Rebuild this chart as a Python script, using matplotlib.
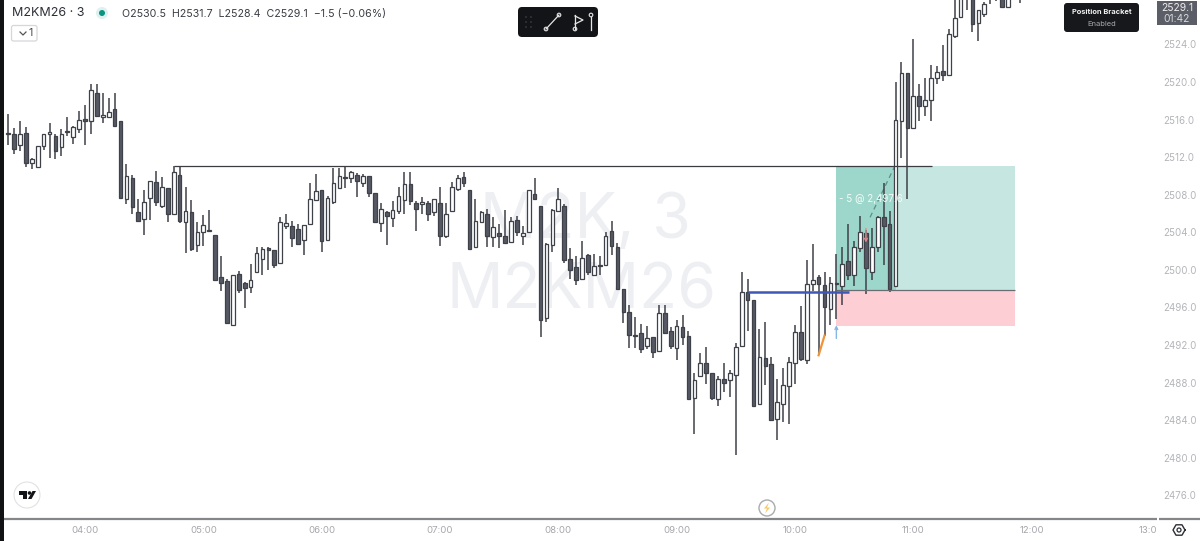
import numpy as np
import matplotlib
matplotlib.use("Agg")
import matplotlib.pyplot as plt
from matplotlib.patches import Rectangle, Circle, FancyBboxPatch, Polygon
from matplotlib.transforms import ScaledTranslation

plt.rcParams['font.family'] = ['Inter', 'DejaVu Sans']

opens = [2514.6,2514.5,2513.3,2514.6,2511.4,2511.0,2513.2,2514.5,2514.3,2513.1,
         2514.8,2514.1,2515.0,2516.1,2515.9,2518.8,2516.3,2516.3,2517.1,2515.8,
         2507.5,2509.8,2506.2,2505.4,2507.7,2509.4,2506.8,2508.7,2505.9,2510.1,
         2505.1,2506.2,2502.6,2504.0,2504.2,2503.7,2499.2,2498.8,2494.1,2499.6,
         2498.6,2498.2,2499.8,2501.2,2502.3,2502.1,2500.7,2504.7,2504.7,2504.4,
         2503.2,2504.9,2507.4,2508.5,2503.2,2507.2,2508.7,2509.9,2509.8,2510.1,
         2509.3,2510.0,2508.2,2505.0,2506.2,2505.5,2506.3,2507.4,2509.1,2507.1,
         2507.0,2507.1,2506.2,2507.1,2503.6,2506.3,2508.6,2509.9,2508.5,2502.4,
         2505.1,2506.0,2503.5,2503.9,2503.6,2503.0,2505.3,2503.6,2504.0,2508.1,
         2506.8,2494.9,2502.7,2506.3,2506.8,2501.2,2500.3,2499.0,2501.6,2499.5,
         2500.5,2500.5,2504.1,2502.4,2498.0,2495.5,2493.1,2493.3,2491.9,2492.9,
         2491.4,2495.4,2493.5,2491.7,2493.9,2493.0,2486.4,2488.7,2490.1,2489.0,
         2486.3,2488.4,2488.3,2488.8,2491.9,2497.6,2496.8,2485.7,2490.6,2490.0,
         2484.1,2485.7,2487.6,2490.1,2493.4,2490.4,2498.5,2499.2,2498.4,2495.8,
         2498.6,2498.3,2500.9,2499.5,2502.3,2503.9,2499.8,2502.4,2505.6,2504.9,
         2498.3,2515.9,2521.0,2515.1,2518.5,2517.4,2518.1,2520.4,2521.2,2520.8,
         2524.9,2526.9,2529.0,2529.5,2526.3,2527.2,2529.5,2529.5,2529.4,2528.0,
         2529.5,2530.5]
highs = [2516.6,2515.1,2515.9,2515.2,2511.9,2513.2,2514.5,2515.6,2514.5,2515.0,
         2516.3,2515.3,2516.9,2517.6,2519.8,2519.8,2518.8,2518.3,2518.8,2515.8,
         2511.3,2510.1,2507.5,2508.5,2509.5,2510.5,2509.9,2508.7,2511.1,2511.1,
         2508.8,2507.4,2505.1,2505.8,2506.4,2503.7,2501.5,2499.0,2499.5,2499.9,
         2498.7,2500.6,2502.4,2502.4,2502.4,2502.1,2505.6,2505.9,2505.2,2504.9,
         2504.8,2509.3,2510.2,2508.5,2507.9,2510.9,2510.9,2511.0,2510.5,2510.3,
         2510.2,2510.0,2508.2,2507.1,2506.3,2507.3,2508.8,2510.4,2510.4,2507.3,
         2507.8,2507.3,2507.5,2508.8,2507.1,2509.4,2510.1,2510.4,2508.5,2507.5,
         2506.3,2506.5,2505.6,2504.9,2506.4,2505.6,2505.7,2504.7,2508.5,2509.8,
         2506.8,2502.9,2506.5,2508.7,2507.0,2502.3,2501.5,2503.1,2501.7,2501.7,
         2501.5,2504.0,2505.2,2502.9,2498.0,2496.3,2495.0,2494.2,2494.0,2492.9,
         2496.3,2496.3,2493.9,2494.7,2495.2,2493.5,2489.0,2491.1,2491.8,2489.0,
         2488.7,2490.1,2489.3,2492.2,2499.8,2499.0,2496.8,2493.7,2494.5,2490.7,
         2488.4,2489.6,2490.7,2494.1,2496.2,2501.1,2502.8,2499.5,2499.8,2499.2,
         2501.7,2502.4,2504.9,2503.1,2505.7,2504.2,2504.5,2505.7,2509.2,2506.3,
         2520.0,2522.1,2521.0,2524.6,2519.8,2520.4,2521.8,2521.7,2523.9,2525.6,
         2528.7,2530.0,2531.0,2530.5,2527.7,2528.5,2530.5,2530.5,2530.0,2530.0,
         2531.0,2531.7]
lows = [2513.3,2512.3,2512.7,2511.0,2510.7,2511.0,2512.8,2511.9,2511.8,2512.1,
        2514.3,2513.4,2514.6,2513.3,2514.5,2516.4,2515.6,2516.3,2515.2,2507.6,
        2507.0,2506.0,2505.2,2503.7,2505.3,2506.8,2506.6,2505.1,2505.9,2505.0,
        2501.8,2502.0,2501.9,2502.5,2504.1,2498.8,2497.8,2494.2,2494.1,2497.5,
        2495.9,2497.5,2499.8,2499.5,2500.0,2500.2,2500.7,2504.4,2502.4,2502.8,
        2501.6,2504.9,2507.4,2501.9,2503.1,2507.0,2508.7,2508.7,2509.2,2507.8,
        2508.8,2507.8,2505.1,2504.0,2502.7,2504.6,2506.0,2506.0,2506.9,2504.1,
        2506.0,2505.2,2505.7,2502.5,2503.4,2506.3,2508.4,2508.8,2502.2,2502.4,
        2505.0,2502.4,2502.4,2502.3,2502.9,2502.9,2503.6,2502.6,2504.0,2507.4,
        2492.8,2494.5,2501.9,2506.3,2500.7,2499.0,2498.4,2499.0,2499.4,2499.4,
        2499.5,2500.5,2501.6,2498.0,2494.3,2491.7,2491.7,2491.1,2491.6,2490.6,
        2491.2,2493.2,2491.6,2490.4,2492.0,2486.2,2482.5,2488.7,2487.8,2486.1,
        2485.5,2487.0,2486.5,2480.3,2491.8,2493.5,2485.5,2485.7,2487.7,2484.0,
        2481.9,2483.8,2483.6,2487.8,2490.3,2490.0,2497.8,2490.9,2493.0,2494.1,
        2494.8,2496.3,2498.9,2498.3,2501.9,2497.4,2498.9,2501.9,2500.5,2497.6,
        2498.3,2511.9,2507.5,2515.1,2515.9,2516.4,2515.9,2519.8,2520.1,2520.6,
        2524.7,2526.9,2527.7,2525.3,2524.4,2526.9,2528.3,2528.6,2528.0,2528.0,
        2529.0,2528.4]
closes = [2514.5,2512.9,2514.5,2511.4,2511.8,2513.2,2514.5,2514.7,2512.7,2514.5,
          2514.7,2515.2,2516.0,2515.9,2519.2,2516.4,2516.5,2516.8,2515.3,2507.6,
          2510.0,2506.7,2505.2,2507.2,2509.5,2507.2,2508.8,2506.0,2510.4,2505.2,
          2506.3,2502.2,2504.0,2504.8,2504.1,2498.9,2498.6,2494.3,2499.5,2497.9,
          2498.1,2498.9,2501.8,2502.2,2502.1,2500.5,2505.1,2505.0,2503.4,2502.8,
          2504.8,2507.5,2508.4,2503.1,2507.6,2509.2,2510.0,2509.8,2510.4,2509.5,
          2510.0,2508.2,2505.1,2506.5,2505.7,2506.4,2507.9,2509.1,2507.3,2506.5,
          2507.2,2506.0,2507.5,2503.6,2505.9,2508.8,2509.8,2509.2,2502.2,2505.2,
          2506.2,2503.6,2504.6,2503.6,2502.9,2505.2,2504.0,2503.9,2508.5,2507.5,
          2494.7,2502.8,2506.4,2507.5,2501.0,2500.0,2498.9,2501.3,2499.8,2500.4,
          2500.4,2503.6,2502.5,2498.0,2495.5,2493.1,2493.0,2491.6,2492.7,2491.2,
          2495.4,2493.3,2491.9,2494.0,2492.9,2486.3,2488.3,2490.1,2489.0,2486.4,
          2488.4,2488.0,2489.0,2491.8,2497.6,2496.8,2485.5,2490.7,2489.8,2484.0,
          2485.9,2487.7,2490.2,2493.4,2490.5,2498.5,2498.9,2498.5,2496.0,2498.6,
          2498.5,2500.6,2499.4,2502.4,2504.0,2500.2,2502.4,2505.6,2504.7,2498.0,
          2516.0,2521.0,2515.1,2518.5,2517.4,2518.1,2520.4,2521.1,2520.8,2525.1,
          2526.8,2529.5,2529.5,2526.2,2527.7,2528.3,2530.0,2530.0,2528.0,2529.0,
          2530.5,2529.1]

price_ticks = [2476,2480,2484,2488,2492,2496,2500,2504,2508,2512,2516,2520,2524]
time_labels = ["04:00","05:00","06:00","07:00","08:00","09:00","10:00","11:00","12:00","13:0"]
time_ticks = [13,33,53,73,93,113,133,153,173,193]

level_price = 2511.1
level_start, level_end = 28, 156.1
target_price, entry_price, stop_price = 2511.1, 2497.85, 2494.0
tool_start, tool_mid, tool_end = 140, 150, 170.2
blue_price = 2497.65
blue_start, blue_end = 125, 142.2
orange_x = [137, 138]
orange_y = [2490.9, 2493.0]
dash_x = [145.7, 150]
dash_y = [2505.6, 2511.2]

DARK = '#565964'
EDGE = '#3f4149'

fig = plt.figure(figsize=(12, 5.41), dpi=100)
ax = fig.add_axes([4/1200, 22/541, 1153/1200, 519/541])
ax.set_xlim(-0.693, 194.2)
ax.set_ylim(2524-(519-44.5)/9.39, 2524+44.5/9.39)
ax.set_zorder(1)
ax.patch.set_alpha(0)

# position tool
ax.add_patch(Rectangle((tool_start, entry_price), tool_mid-tool_start, target_price-entry_price, color='#9dd6ca', lw=0, zorder=1))
ax.add_patch(Rectangle((tool_mid, entry_price), tool_end-tool_mid, target_price-entry_price, color='#c6e7e1', lw=0, zorder=1))
ax.add_patch(Rectangle((tool_start, stop_price), tool_end-tool_start, entry_price-stop_price, color='#fdced3', lw=0, zorder=1))

# watermark sits behind the axes
fig.text(585/1200, 1-221/541, "M2K, 3", fontsize=45, color='#eeeff2', ha='center', va='center', zorder=0.5)
fig.text(581/1200, 1-292/541, "M2KM26", fontsize=45, color='#eeeff2', ha='center', va='center', zorder=0.5)

xs = np.arange(len(opens))
o = np.array(opens)
c = np.array(closes)
ax.vlines(xs, lows, highs, color=EDGE, lw=1.1, zorder=3)
fills = [DARK if cc < oo else 'white' for oo, cc in zip(o, c)]
ax.bar(xs, np.abs(c-o), bottom=np.minimum(o, c), width=0.62, color=fills, edgecolor=EDGE, linewidth=0.9, zorder=4)

ax.hlines(level_price, level_start, level_end, color='#3a3c42', lw=0.9, zorder=5)
ax.hlines(entry_price, tool_start, tool_end, color='#6b6d72', lw=0.9, zorder=5)
ax.hlines(blue_price, blue_start, blue_end, color='#3f57b8', lw=1.8, zorder=6)
ax.plot(orange_x, orange_y, color='#f0943a', lw=1.6, zorder=6)
ax.plot(dash_x, dash_y, color='#5d8f86', lw=0.9, ls=(0, (4, 3)), zorder=2)
ax.annotate("", xy=(140, 2494.1), xytext=(140, 2492.7), arrowprops=dict(arrowstyle='->,head_length=0.2,head_width=0.1', color='#86b6e2', lw=1.0, shrinkA=0, shrinkB=0), zorder=6)
ax.annotate("", xy=(145, 2502.9), xytext=(145, 2504.4), arrowprops=dict(arrowstyle='->,head_length=0.2,head_width=0.1', color='#d98b8b', lw=1.0, shrinkA=0, shrinkB=0), zorder=6)
ax.text(140.4, 2507.55, "- 5 @ 2,497.6", color='#f4fbf9', fontsize=7.0, va='center', ha='left', zorder=7)

for s in ax.spines.values():
    s.set_visible(False)
ax.yaxis.tick_right()
ax.set_yticks(price_ticks)
ax.set_yticklabels([f"{p:.1f}" for p in price_ticks])
ax.set_xticks(time_ticks)
ax.set_xticklabels(time_labels)
ax.tick_params(axis='y', length=0, pad=4.5, labelsize=7.0, labelcolor='#b4b5ba')
ax.tick_params(axis='x', length=0, pad=5, labelsize=6.9, labelcolor='#a5a6ab')
last = ax.get_xticklabels()[-1]
last.set_transform(last.get_transform()+ScaledTranslation(-2.5/100, 0, fig.dpi_scale_trans))

# chrome, in pixels
ov = fig.add_axes([0, 0, 1, 1])
ov.set_zorder(2)
ov.set_xlim(0, 1200)
ov.set_ylim(541, 0)
ov.axis('off')
ov.patch.set_alpha(0)

ov.add_patch(Rectangle((0, 0), 4, 541, color='#101214', lw=0))
ov.plot([4, 1157], [519, 519], color='#85868a', lw=1.6, solid_capstyle='butt')
ov.plot([1158.5, 1200], [519, 519], color='#85868a', lw=1.6, solid_capstyle='butt')

ov.text(12, 13, "M2KM26 · 3", fontsize=9.0, color='#2e3038', va='center')
ov.add_patch(Circle((102, 13), 6, color='#dff1ee', lw=0))
ov.add_patch(Circle((102, 13), 3, color='#0a9582', lw=0))
ov.text(122, 13.5, "O2530.5  H2531.7  L2528.4  C2529.1  −1.5 (−0.06%)", fontsize=7.65, color='#3a3c44', va='center')
ov.add_patch(FancyBboxPatch((11.5, 25.5), 25.5, 15.5, boxstyle="round,pad=0,rounding_size=2", fc='white', ec='#d6d7da', lw=0.9))
ov.plot([20, 23, 26], [32, 35, 32], color='#555', lw=0.9)
ov.text(30.5, 33.5, "1", fontsize=7.6, color='#444', va='center', ha='center')

# drawing toolbar
ov.add_patch(FancyBboxPatch((518, 7), 80, 30, boxstyle="round,pad=0,rounding_size=4", fc='#131417', ec='none'))
for dx in (526, 531):
    for dy in (17, 22, 27):
        ov.add_patch(Circle((dx, dy), 0.9, color='#3a3b40', lw=0))
ov.plot([546, 559], [29, 15], color='#e6e6e6', lw=0.9)
ov.plot([575, 575], [15, 29], color='#e6e6e6', lw=0.9)
ov.plot([575, 583, 575], [16, 20, 24], color='#e6e6e6', lw=0.9)
ov.plot([591, 591], [17, 30], color='#e6e6e6', lw=0.9)
for cx, cy in [(546, 29), (559, 15), (575, 29), (591, 15)]:
    ov.add_patch(Circle((cx, cy), 1.8, fc='#131417', ec='#e6e6e6', lw=0.8))

# bracket badge and last price
ov.add_patch(FancyBboxPatch((1064, 3), 75, 29, boxstyle="round,pad=0,rounding_size=3", fc='#17181c', ec='none'))
ov.text(1101.5, 12, "Position Bracket", fontsize=5.4, color='#f2f2f2', ha='center', va='center', fontweight='bold')
ov.text(1101.5, 24, "Enabled", fontsize=5.4, color='#a8a9ad', ha='center', va='center')
ov.add_patch(Rectangle((1157, 1), 40, 24, color='#5b5e66', lw=0))
ov.text(1177, 8, "2529.1", fontsize=7.4, color='#eeeef0', ha='center', va='center')
ov.text(1177, 19, "01:42", fontsize=7.4, color='#d8d8dc', ha='center', va='center')

# tv logo
ov.add_patch(Circle((27, 495), 13, fc='white', ec='#e2e2e4', lw=0.8))
ov.add_patch(Polygon([(19, 491), (27, 491), (27, 499), (23, 499), (23, 494.5), (19, 494.5)], color='#131417', lw=0))
ov.add_patch(Circle((29.5, 493), 1.8, color='#131417', lw=0))
ov.add_patch(Polygon([(28, 499), (32.5, 491), (36, 491), (31.5, 499)], color='#131417', lw=0))

# lightning badge
ov.add_patch(Circle((767, 508), 8, fc='white', ec='#aaaaad', lw=1.0))
ov.add_patch(Polygon([(769, 502.5), (764, 508.5), (767, 508.5), (765, 513.5), (770, 507.5), (767, 507.5)], color='#f8c868', lw=0))

# settings
hx = 1179+6*np.cos(np.arange(7)*np.pi/3)
hy = 530+6*np.sin(np.arange(7)*np.pi/3)
ov.plot(hx, hy, color='#2c2e34', lw=1.0)
ov.add_patch(Circle((1179, 530), 2, fc='white', ec='#2c2e34', lw=0.9))

fig.savefig("out.png", dpi=100)
